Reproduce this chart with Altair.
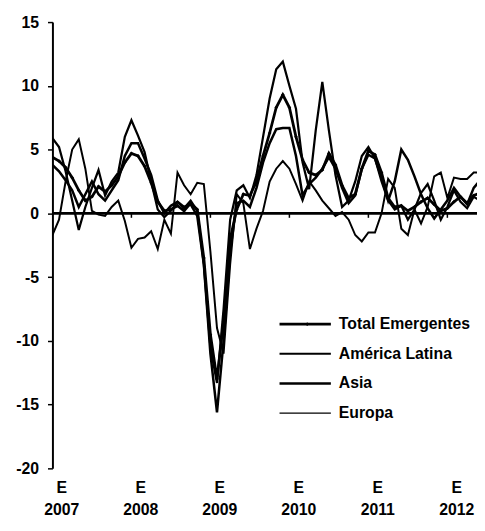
import altair as alt
import pandas as pd

years = [2007, 2008, 2009, 2010, 2011, 2012]
year_ticks = [0, 12, 24, 36, 48, 60]
y_ticks = [15, 10, 5, 0, -5, -10, -15, -20]
series_names = ["Total Emergentes", "América Latina", "Asia", "Europa"]

total = [4.4, 4.1, 3.6, 2.8, 1.8, 1.0, 1.3, 2.1, 1.7, 2.2,
         2.9, 4.0, 4.7, 4.5, 3.7, 2.4, 0.9, 0.2, 0.3, 0.6,
         0.2, 0.8, 0.3, -3.5, -9.5, -13.0, -8.5, -2.0, 0.3, 1.5,
         1.4, 2.5, 4.5, 6.3, 8.3, 9.3, 8.3, 6.0, 4.2, 3.2,
         3.0, 3.4, 4.7, 3.8, 2.2, 1.2, 1.5, 3.5, 4.9, 4.6,
         3.2, 1.2, 0.5, 0.6, 0.2, 0.5, 0.9, 1.2, 0.7, 0.2,
         0.4, 0.9, 1.3, 0.8, 1.4, 1.6]
latam = [3.8, 3.3, 2.6, 1.8, 0.5, 1.5, 2.5, 1.5, 1.0, 1.8,
         2.6, 4.5, 5.5, 5.5, 4.3, 3.0, 1.0, 0.0, 0.6, 0.9,
         0.5, 0.7, -0.2, -4.0, -11.0, -15.6, -10.0, -3.0, 0.8, 1.0,
         0.5, 2.0, 4.0, 5.5, 6.6, 6.7, 6.7, 4.5, 1.4, 2.3,
         2.8, 3.5, 4.4, 3.5, 2.0, 0.8, 1.4, 3.5, 4.6, 4.3,
         2.8, 1.0, 2.5, 5.0, 4.2, 2.9, 1.5, 0.4, -0.4, 0.3,
         1.0, 2.0, 1.3, 0.7, 2.0, 2.6]
asia = [5.9, 5.2, 3.3, 1.0, -1.3, 0.5, 2.0, 3.4, 1.4, 2.5,
        3.2, 6.0, 7.3, 6.1, 4.8, 2.5, 0.3, -0.3, 0.2, 0.9,
        0.4, 1.0, 0.2, -4.0, -10.5, -13.3, -7.5, -0.5, 1.8, 2.2,
        1.2, 3.0, 6.0, 9.0, 11.3, 11.9, 10.0, 8.2, 4.0, 1.9,
        6.5, 10.3, 6.5, 3.0, 0.5, 1.0, 2.5, 4.5, 5.2, 4.3,
        2.5, 1.0, 0.3, 0.6, -0.5, 0.3, 1.6, 2.3, 1.0, -0.5,
        0.5, 1.8, 0.9, 0.4, 1.3, 1.0]
europa = [-1.7, -0.5, 2.5, 5.0, 5.8, 3.5, 0.2, -0.1, -0.2, 0.5,
          1.0, -0.6, -2.7, -2.0, -1.9, -1.4, -2.8, -0.5, -1.6, 3.2,
          2.2, 1.5, 2.4, 2.3, -3.0, -9.0, -11.0, -4.0, 1.5, 0.8,
          -2.8, -1.2, 0.2, 2.5, 3.5, 4.1, 3.5, 2.3, 1.0, 2.5,
          1.8, 1.0, 0.4, -0.2, 0.1, -0.5, -1.7, -2.2, -1.5, -1.5,
          0.0, 2.7, 2.0, -1.2, -1.7, 0.3, -0.8, 0.5, 2.9, 3.2,
          1.2, 2.8, 2.7, 2.7, 3.2, 3.2]

FONT = "Liberation Sans"
all_series = [total, latam, asia, europa]
rows = []
for name, vals in zip(series_names, all_series):
    for m, v in enumerate(vals):
        rows.append({"month": m, "value": v, "series": name})
df = pd.DataFrame(rows)

x_scale = alt.Scale(domain=[0, 64.5], nice=False, zero=False)
y_scale = alt.Scale(domain=[-20, 15], nice=False)

x_enc = alt.X("month:Q", scale=x_scale,
              axis=alt.Axis(values=year_ticks, title=None, grid=False, domain=False,
                            ticks=False, tickSize=0,
                            labelExpr="['E', '' + (2007 + datum.value / 12)]",
                            labelFont=FONT, labelFontSize=16, labelFontWeight="bold",
                            labelColor="black", labelPadding=11, labelLineHeight=23,
                            labelOffset=9, labelFlush=False, labelOverlap=False))
y_enc = alt.Y("value:Q", scale=y_scale,
              axis=alt.Axis(values=y_ticks, title=None, grid=False,
                            domainColor="black", domainWidth=2,
                            tickColor="black", tickWidth=1.5, tickSize=5,
                            labelExpr="'' + datum.value",
                            labelFont=FONT, labelFontSize=16, labelFontWeight="bold",
                            labelColor="black", labelPadding=9))

widths = [2.8, 2.0, 2.5, 1.4]
lines = alt.Chart(df).mark_line(color="black", clip=True).encode(
    x=x_enc, y=y_enc,
    strokeWidth=alt.StrokeWidth("series:O",
                                scale=alt.Scale(domain=series_names, range=widths),
                                legend=None),
    detail="series:N",
)

points = alt.Chart(df[df["series"] == series_names[0]]).mark_point(
    shape="diamond", filled=True, color="black", size=14, opacity=1, clip=True
).encode(x="month:Q", y="value:Q")

zero = alt.Chart(pd.DataFrame({"v": [0]})).mark_rule(color="black", strokeWidth=2.8).encode(
    y=alt.Y("v:Q")
)

tick_df = pd.DataFrame({"month": year_ticks[1:], "y0": [0] * 5, "y1": [-0.35] * 5})
yticks = alt.Chart(tick_df).mark_rule(color="black", strokeWidth=1.5).encode(
    x="month:Q", y="y0:Q", y2="y1:Q"
)

legend_layers = []
for i, (name, w) in enumerate(zip(series_names, widths)):
    yy = 306 + 30 * i
    legend_layers.append(
        alt.Chart(pd.DataFrame({"n": [name]})).mark_rule(color="black", strokeWidth=w).encode(
            x=alt.value(230), x2=alt.value(282), y=alt.value(yy)))
    legend_layers.append(
        alt.Chart(pd.DataFrame({"n": [name]})).mark_text(
            align="left", baseline="middle", font=FONT, fontSize=16,
            fontWeight="bold", color="black").encode(
            x=alt.value(290), y=alt.value(yy), text="n:N"))
legend_layers.append(
    alt.Chart(pd.DataFrame({"n": [series_names[0]]})).mark_point(
        shape="diamond", filled=True, color="black", size=14, opacity=1).encode(
        x=alt.value(258), y=alt.value(306)))

chart = alt.layer(zero, yticks, lines, points, *legend_layers).properties(
    width=430, height=452,
    autosize=alt.AutoSizeParams(type="none"),
    padding={"left": 45, "top": 11, "right": 0, "bottom": 46},
    background="white",
).configure_view(strokeWidth=0)

chart.save("out.html", embed_options={"renderer": "svg", "actions": False})
